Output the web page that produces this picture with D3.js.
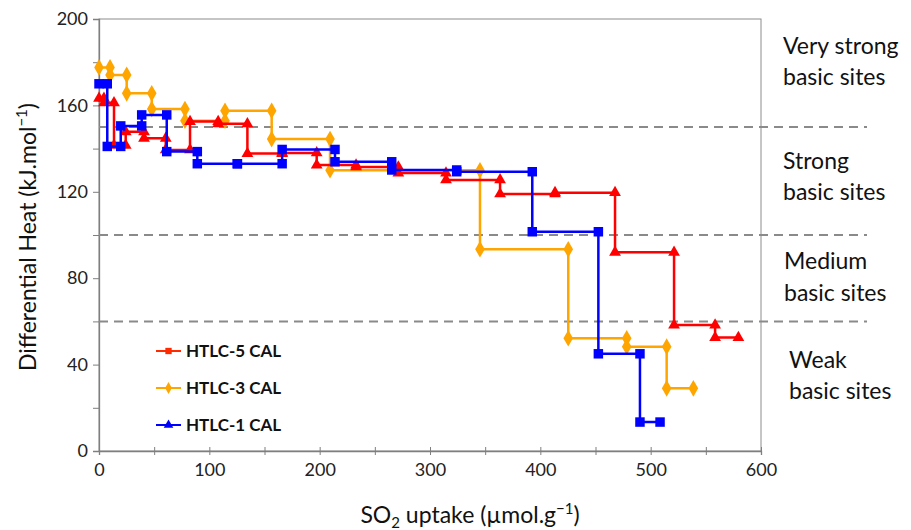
<!DOCTYPE html>
<html>
<head>
<meta charset="utf-8">
<script src="https://cdn.jsdelivr.net/npm/d3@7"></script>
<style>
  body { margin: 0; background: #fff; }
  svg { font-family: Lato, "Open Sans", sans-serif; }
</style>
</head>
<body>
<script>
// series: uptake at the end of each dose (µmol/g) and differential heat of that dose (kJ/mol)
var seriesNames = ["HTLC-3 CAL", "HTLC-5 CAL", "HTLC-1 CAL"];

var htlc3Uptake = [10, 25.1, 47.8, 77.9, 114.2, 156.5, 209.4, 345.3, 425.3, 478.3, 514.5, 538.7];
var htlc3Heat   = [177.6, 174.1, 165.6, 158.3, 152.9, 157.5, 144.4, 130, 93.4, 52.2, 48.3, 29];

var htlc5Uptake = [4.5, 13.6, 24.2, 40.8, 60.5, 82.5, 108, 134.5, 166, 197.3, 233, 271.3, 314.5, 363.5, 413.3, 467.7, 521.2, 558.4, 579.5];
var htlc5Heat   = [163.3, 161.2, 141.5, 147.8, 144.8, 139.4, 152.5, 151.5, 137.7, 138, 132.4, 131.5, 128.7, 125.5, 119, 119.6, 92, 58.3, 52.5];

var htlc1Uptake = [7.5, 19.7, 38.7, 61.4, 89.1, 125.4, 166, 213.9, 265.3, 324.2, 392.7, 452.6, 490.3, 508.5];
var htlc1Heat   = [170, 141, 150.5, 155.6, 138.6, 133, 133, 139.6, 133.9, 130.1, 129.3, 101.5, 45, 13.4];

// borders between the site strength classes
var siteLimits = [150, 100, 60];
var siteLabels = [["Very strong", "basic sites"], ["Strong", "basic sites"], ["Medium", "basic sites"], ["Weak", "basic sites"]];

var xTicks = [0, 100, 200, 300, 400, 500, 600];
var yTicks = [0, 40, 80, 120, 160, 200];

var width = 911, height = 530;
var padding = { top: 19, right: 150, bottom: 79, left: 99 };

var svg = d3.select("body").append("svg")
  .attr("width", width)
  .attr("height", height);

var x = d3.scaleLinear().domain([0, 600]).range([padding.left, width - padding.right]);
var y = d3.scaleLinear().domain([0, 200]).range([height - padding.bottom, padding.top]);

// plot frame
svg.append("rect")
  .attr("x", x(0)).attr("y", y(200))
  .attr("width", x(600) - x(0)).attr("height", y(0) - y(200))
  .attr("fill", "none").attr("stroke", "#8c8c8c").attr("stroke-width", 1);

// y axis
var yAxis = d3.axisLeft(y).tickValues(d3.range(0, 201, 20)).tickSize(6).tickPadding(5)
  .tickFormat(function(d) { return yTicks.indexOf(d) >= 0 ? d : ""; });
var gy = svg.append("g").attr("transform", "translate(" + x(0) + ",0)").call(yAxis);
gy.select(".domain").attr("stroke", "#7f7f7f").attr("stroke-width", 1.3);
gy.selectAll(".tick line").attr("stroke", "#7f7f7f");
gy.selectAll(".tick text").attr("font-size", 18).attr("fill", "#222").attr("font-family", "Lato, sans-serif");

// x axis
var xAxis = d3.axisBottom(x).tickValues(d3.range(0, 601, 50)).tickSize(4).tickPadding(8)
  .tickFormat(function(d) { return xTicks.indexOf(d) >= 0 ? d : ""; });
var gx = svg.append("g").attr("transform", "translate(0," + y(0) + ")").call(xAxis);
gx.select(".domain").attr("stroke", "#7f7f7f").attr("stroke-width", 1.3);
gx.selectAll(".tick line").attr("stroke", "#7f7f7f").attr("y1", -4);
gx.selectAll(".tick text").attr("font-size", 18).attr("fill", "#222").attr("font-family", "Lato, sans-serif");

// dashed borders of site classes
svg.append("g").selectAll("line")
  .data(siteLimits).enter().append("line")
  .attr("x1", x(0)).attr("x2", 867)
  .attr("y1", function(d) { return y(d); })
  .attr("y2", function(d) { return y(d); })
  .attr("stroke", "#8a8a8a").attr("stroke-width", 2)
  .attr("stroke-dasharray", "9,6");

// class labels on the right
var labelY = [[54, 85], [169, 200], [269, 301], [368, 399]];
var labelX = [783, 783, 784, 789];
siteLabels.forEach(function(lines, i) {
  lines.forEach(function(t, j) {
    svg.append("text")
      .attr("x", labelX[i]).attr("y", labelY[i][j])
      .attr("font-size", 23).attr("fill", "#111")
      .text(t);
  });
});

// steps: each dose is drawn from the previous uptake to its own, at its heat
function corners(uptake, heat) {
  var pts = [];
  uptake.forEach(function(u, i) {
    var start = i === 0 ? 0 : uptake[i - 1];
    pts.push([start, heat[i]]);
    pts.push([u, heat[i]]);
  });
  return pts;
}

var line = d3.line()
  .x(function(d) { return x(d[0]); })
  .y(function(d) { return y(d[1]); });

var series = [
  { name: seriesNames[0], pts: corners(htlc3Uptake, htlc3Heat), color: "#ffa500", symbol: d3.symbolDiamond, size: 80 },
  { name: seriesNames[1], pts: corners(htlc5Uptake, htlc5Heat), color: "#ff0000", symbol: d3.symbolTriangle, size: 60 },
  { name: seriesNames[2], pts: corners(htlc1Uptake, htlc1Heat), color: "#0000ff", symbol: d3.symbolSquare, size: 90 }
];

series.forEach(function(s) {
  var g = svg.append("g");
  g.append("path")
    .attr("d", line(s.pts))
    .attr("fill", "none")
    .attr("stroke", s.color)
    .attr("stroke-width", 2.5);
  g.selectAll("path.m")
    .data(s.pts).enter().append("path")
    .attr("class", "m")
    .attr("d", d3.symbol().type(s.symbol).size(s.size))
    .attr("transform", function(d) { return "translate(" + x(d[0]) + "," + y(d[1]) + ")"; })
    .attr("fill", s.color);
});

// legend (as drawn in the source figure)
var legend = [
  { name: "HTLC-5 CAL", color: "#ff2a00", symbol: d3.symbolSquare },
  { name: "HTLC-3 CAL", color: "#ffa500", symbol: d3.symbolDiamond },
  { name: "HTLC-1 CAL", color: "#0000ff", symbol: d3.symbolTriangle }
];
var lg = svg.append("g").attr("transform", "translate(156,351)");
legend.forEach(function(d, i) {
  var row = lg.append("g").attr("transform", "translate(0," + (i * 37) + ")");
  row.append("line").attr("x1", 0).attr("x2", 25).attr("stroke", d.color).attr("stroke-width", 2);
  row.append("path").attr("d", d3.symbol().type(d.symbol).size(40))
    .attr("transform", "translate(12.5,0)").attr("fill", d.color);
  row.append("text").attr("x", 30).attr("y", 6)
    .attr("font-size", 17).attr("font-weight", "bold").attr("fill", "#111")
    .text(d.name);
});

// axis titles
var yt = svg.append("text")
  .attr("transform", "translate(36,237) rotate(-90)")
  .attr("text-anchor", "middle").attr("font-size", 23).attr("fill", "#111");
yt.append("tspan").text("Differential Heat (kJ.mol");
yt.append("tspan").attr("dy", -9).attr("font-size", 15).text("\u22121");
yt.append("tspan").attr("dy", 9).text(")");

var xt = svg.append("text")
  .attr("x", 470).attr("y", 523)
  .attr("text-anchor", "middle").attr("font-size", 23).attr("fill", "#111");
xt.append("tspan").text("SO");
xt.append("tspan").attr("dy", 5).attr("font-size", 15).text("2");
xt.append("tspan").attr("dy", -5).text(" uptake (\u00b5mol.g");
xt.append("tspan").attr("dy", -9).attr("font-size", 15).text("\u22121");
xt.append("tspan").attr("dy", 9).text(")");
</script>
</body>
</html>
